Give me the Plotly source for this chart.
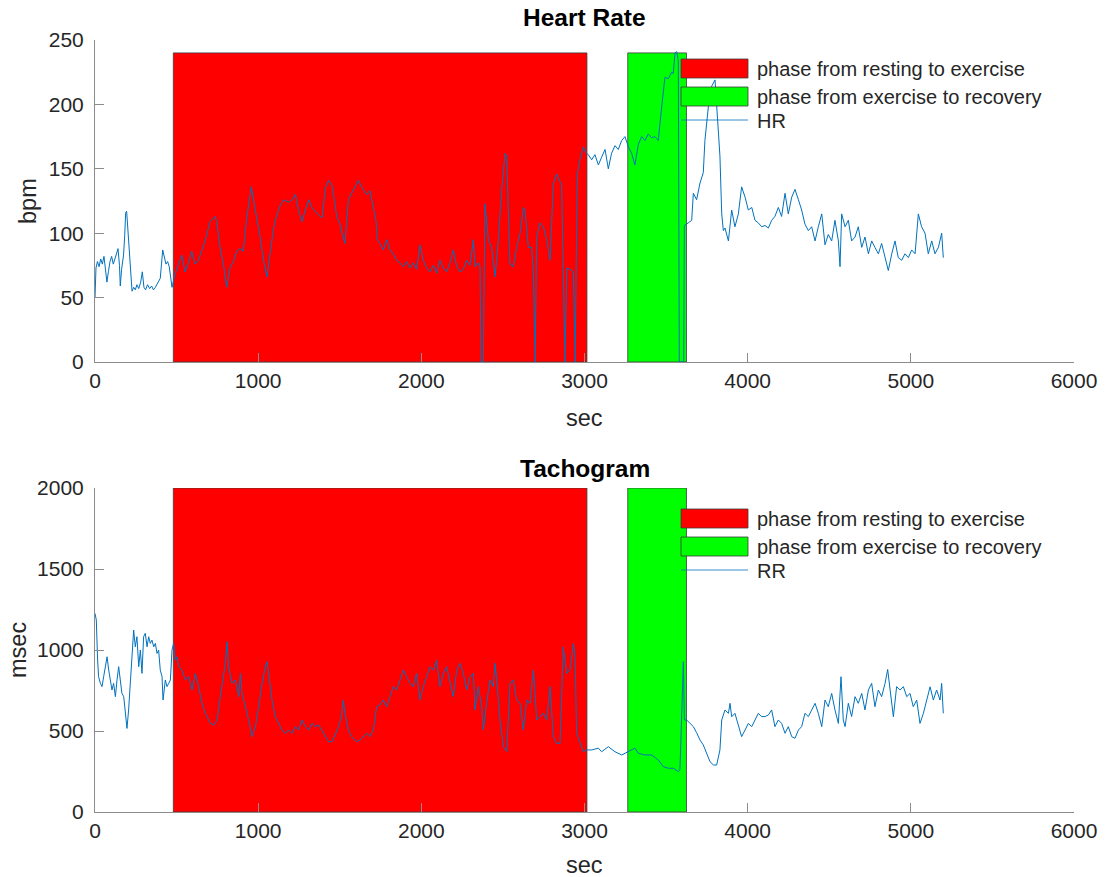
import plotly.graph_objects as go

# ---------------- data ----------------
# Heart rate (bpm) over time (s)
hr_sec = [0, 6, 15, 25, 35, 45, 55, 65, 73, 82, 92, 102, 112, 122, 132, 141, 150, 155, 163, 175,
          182, 188, 194, 200, 208, 216, 227, 237, 247, 257, 268, 280, 290, 300, 310, 322, 335, 347, 358, 370,
          380, 390, 400, 415, 425, 435, 445, 455, 472, 490, 512, 532, 552, 573, 593, 613, 634, 654, 675, 705,
          736, 746, 766, 787, 807, 827, 848, 868, 889, 909, 930, 958, 982, 1013, 1034, 1054, 1075, 1095, 1116, 1136,
          1157, 1187, 1208, 1228, 1249, 1269, 1289, 1310, 1330, 1351, 1371, 1392, 1412, 1432, 1453, 1483, 1500, 1514, 1532, 1553,
          1583, 1614, 1634, 1665, 1685, 1706, 1722, 1730, 1747, 1767, 1788, 1808, 1828, 1849, 1869, 1890, 1910, 1931, 1951, 1971,
          1992, 2012, 2033, 2053, 2074, 2094, 2114, 2135, 2155, 2176, 2196, 2217, 2237, 2257, 2278, 2298, 2319, 2329, 2349, 2360,
          2366, 2380, 2390, 2411, 2431, 2452, 2472, 2492, 2513, 2523, 2533, 2543, 2564, 2584, 2605, 2625, 2635, 2656, 2676, 2687,
          2697, 2707, 2727, 2748, 2768, 2789, 2809, 2829, 2850, 2860, 2870, 2880, 2891, 2911, 2932, 2942, 2956, 2972, 2993, 3013,
          3023, 3044, 3064, 3085, 3105, 3126, 3146, 3166, 3187, 3207, 3228, 3248, 3269, 3289, 3309, 3330, 3350, 3371, 3391, 3412,
          3432, 3452, 3473, 3493, 3514, 3534, 3544, 3555, 3565, 3575, 3581, 3608, 3612, 3626, 3636, 3657, 3667, 3687, 3708, 3728,
          3738, 3759, 3779, 3800, 3810, 3820, 3830, 3841, 3851, 3861, 3882, 3902, 3922, 3943, 3963, 3984, 4004, 4025, 4045, 4065,
          4086, 4106, 4127, 4147, 4167, 4188, 4208, 4229, 4249, 4270, 4290, 4311, 4331, 4351, 4372, 4392, 4413, 4433, 4454, 4474,
          4494, 4515, 4535, 4556, 4566, 4576, 4597, 4617, 4637, 4658, 4678, 4699, 4719, 4740, 4760, 4780, 4801, 4821, 4842, 4862,
          4883, 4903, 4923, 4944, 4964, 4985, 5005, 5026, 5046, 5066, 5087, 5107, 5128, 5148, 5169, 5189, 5199]
hr_bpm = [50, 73, 78, 74, 80, 76, 82, 72, 62, 70, 78, 82, 76, 80, 84, 88, 75, 59, 72, 83,
          98, 116, 117, 105, 95, 73, 55, 58, 56, 60, 57, 62, 70, 58, 56, 60, 57, 59, 56, 58,
          60, 62, 65, 87, 80, 76, 78, 74, 58, 68, 76, 83, 70, 77, 86, 76, 79, 86, 94, 109,
          113, 109, 89, 76, 58, 73, 78, 86, 88, 86, 112, 136, 119, 96, 78, 66, 86, 104, 115, 122,
          126, 124, 126, 130, 117, 109, 118, 126, 120, 117, 114, 112, 135, 141, 137, 112, 108, 100, 92, 126,
          133, 141, 136, 130, 133, 120, 110, 95, 92, 87, 95, 87, 84, 79, 77, 74, 78, 73, 77, 72,
          91, 79, 73, 70, 75, 69, 79, 73, 70, 77, 87, 74, 70, 72, 79, 75, 95, 74, 77, 74,
          0, 0, 123, 95, 89, 66, 95, 133, 162, 160, 120, 76, 74, 89, 100, 120, 118, 89, 89, 69,
          0, 97, 108, 105, 95, 79, 138, 146, 140, 138, 69, 0, 73, 72, 70, 0, 146, 157, 167, 162,
          161, 157, 161, 153, 159, 165, 150, 162, 168, 165, 172, 175, 167, 162, 153, 169, 175, 172, 177, 174,
          175, 172, 198, 221, 220, 225, 224, 240, 241, 234, 0, 0, 106, 107, 108, 110, 131, 126, 139, 147,
          172, 198, 214, 219, 198, 177, 160, 115, 102, 104, 94, 118, 105, 115, 136, 128, 118, 120, 110, 108,
          105, 106, 104, 110, 113, 120, 113, 131, 115, 128, 134, 126, 118, 107, 102, 105, 94, 105, 115, 91,
          99, 94, 110, 94, 74, 115, 105, 110, 94, 97, 105, 89, 97, 84, 94, 89, 84, 92, 81, 71,
          84, 94, 81, 79, 84, 81, 87, 84, 115, 105, 100, 84, 94, 84, 89, 100, 81]

# RR interval (msec) over time (s)
rr_sec = [0, 8, 16, 22, 33, 43, 53, 63, 74, 84, 94, 104, 114, 125, 135, 145, 155, 165, 176, 186,
          196, 206, 217, 227, 237, 247, 257, 268, 278, 288, 298, 308, 319, 329, 339, 349, 360, 370, 380, 390,
          400, 411, 417, 431, 441, 452, 462, 472, 482, 492, 503, 513, 533, 554, 574, 595, 615, 635, 656, 676,
          707, 727, 748, 768, 789, 799, 809, 819, 840, 860, 881, 891, 901, 921, 942, 962, 983, 1003, 1024, 1044,
          1054, 1064, 1085, 1105, 1126, 1146, 1167, 1187, 1207, 1228, 1248, 1269, 1289, 1310, 1330, 1350, 1371, 1391, 1412, 1432,
          1453, 1473, 1493, 1510, 1522, 1532, 1553, 1573, 1604, 1624, 1645, 1665, 1685, 1706, 1726, 1747, 1767, 1788, 1808, 1828,
          1849, 1869, 1890, 1910, 1931, 1951, 1971, 1992, 2012, 2033, 2053, 2074, 2094, 2114, 2135, 2155, 2176, 2196, 2217, 2237,
          2257, 2278, 2298, 2319, 2329, 2349, 2370, 2380, 2400, 2421, 2441, 2452, 2462, 2482, 2503, 2523, 2533, 2543, 2564, 2584,
          2605, 2625, 2646, 2666, 2687, 2697, 2707, 2727, 2748, 2768, 2789, 2809, 2829, 2850, 2870, 2891, 2911, 2932, 2942, 2952,
          2972, 2993, 3013, 3044, 3085, 3105, 3146, 3187, 3228, 3269, 3309, 3330, 3371, 3412, 3452, 3483, 3514, 3544, 3575, 3585,
          3606, 3612, 3626, 3647, 3667, 3687, 3708, 3728, 3749, 3769, 3790, 3810, 3830, 3841, 3861, 3882, 3892, 3902, 3922, 3943,
          3963, 3984, 4004, 4025, 4045, 4065, 4086, 4106, 4127, 4147, 4167, 4188, 4208, 4229, 4249, 4270, 4290, 4311, 4331, 4351,
          4372, 4392, 4413, 4433, 4454, 4474, 4494, 4515, 4535, 4556, 4572, 4586, 4597, 4617, 4637, 4658, 4678, 4699, 4719, 4740,
          4760, 4780, 4801, 4821, 4842, 4858, 4872, 4893, 4913, 4934, 4954, 4975, 4995, 5015, 5036, 5056, 5077, 5097, 5118, 5138,
          5158, 5179, 5189, 5199]
rr_msec = [1226, 1185, 938, 835, 794, 774, 835, 897, 958, 876, 815, 753, 794, 712, 815, 897, 815, 733, 712, 609,
           516, 630, 815, 1000, 1123, 1020, 1082, 897, 1000, 856, 1082, 1103, 1020, 1082, 1041, 1061, 1020, 1041, 979, 1000,
           876, 835, 691, 815, 774, 794, 815, 1000, 1041, 938, 958, 897, 876, 815, 835, 753, 856, 774, 671, 609,
           547, 537, 568, 712, 876, 918, 1051, 897, 794, 815, 712, 856, 733, 650, 568, 465, 527, 650, 794, 897,
           928, 856, 691, 588, 547, 506, 485, 506, 485, 527, 506, 568, 527, 506, 547, 527, 537, 506, 465, 434,
           434, 485, 527, 590, 691, 609, 506, 465, 434, 444, 465, 486, 465, 506, 650, 661, 691, 650, 712, 774,
           753, 815, 877, 835, 794, 774, 856, 691, 774, 835, 897, 877, 938, 774, 856, 897, 794, 712, 877, 918,
           856, 753, 835, 856, 630, 774, 650, 506, 671, 815, 774, 918, 815, 568, 403, 372, 568, 794, 815, 691,
           671, 506, 691, 671, 877, 732, 568, 589, 609, 568, 774, 465, 424, 424, 1020, 857, 877, 1040, 959, 486,
           424, 372, 383, 383, 394, 372, 403, 372, 352, 372, 394, 362, 352, 352, 321, 280, 270, 270, 249, 260,
           928, 568, 568, 547, 527, 490, 444, 414, 362, 311, 290, 290, 383, 568, 630, 609, 671, 588, 609, 527,
           465, 506, 547, 527, 568, 609, 589, 589, 599, 630, 527, 568, 547, 486, 527, 465, 455, 506, 527, 609,
           589, 630, 671, 609, 527, 691, 650, 732, 630, 547, 835, 568, 527, 671, 589, 712, 671, 732, 630, 753,
           794, 650, 753, 712, 794, 880, 753, 588, 774, 753, 774, 712, 732, 650, 691, 547, 609, 691, 773, 691,
           753, 691, 794, 609]

# Phase windows (s) and the height of the shaded blocks on each panel
phase_rest_to_ex = [480, 3015]
phase_ex_to_rec = [3265, 3625]
block_top_hr = 240
block_top_rr = 2000

x_ticks = [0, 1000, 2000, 3000, 4000, 5000, 6000]
hr_ticks = [0, 50, 100, 150, 200, 250]
rr_ticks = [0, 500, 1000, 1500, 2000]

legend_labels = ["phase from resting to exercise", "phase from exercise to recovery"]

# ---------------- styling ----------------
W, H = 1109, 877
FONT = "Liberation Sans, Arial, Helvetica, sans-serif"
TXT = "#262626"
AX = "#8c8c8c"
LINE_BLUE = "#0072BD"
RED = "rgb(255,0,0)"
GREEN = "rgb(0,255,0)"


def px(x):
    return x / W


def py(y):
    return 1 - y / H


def block(phase, top, color, xa, ya):
    a, b = phase
    return go.Scatter(x=[a, a, b, b, a], y=[0, top, top, 0, 0], mode="lines",
                      fill="toself", fillcolor=color,
                      line=dict(color="#3c3c3c", width=0.8),
                      xaxis=xa, yaxis=ya, showlegend=False, hoverinfo="skip")


fig = go.Figure()

# top panel: heart rate
fig.add_trace(block(phase_rest_to_ex, block_top_hr, RED, "x", "y"))
fig.add_trace(block(phase_ex_to_rec, block_top_hr, GREEN, "x", "y"))
fig.add_trace(go.Scatter(x=hr_sec, y=hr_bpm, mode="lines", name="HR",
                         line=dict(color=LINE_BLUE, width=1), xaxis="x", yaxis="y",
                         showlegend=False))

# bottom panel: tachogram
fig.add_trace(block(phase_rest_to_ex, block_top_rr, RED, "x2", "y2"))
fig.add_trace(block(phase_ex_to_rec, block_top_rr, GREEN, "x2", "y2"))
fig.add_trace(go.Scatter(x=rr_sec, y=rr_msec, mode="lines", name="RR",
                         line=dict(color=LINE_BLUE, width=1), xaxis="x2", yaxis="y2",
                         showlegend=False))

axis_common = dict(showgrid=False, zeroline=False, showline=True, linecolor=AX, linewidth=1,
                   ticks="inside", ticklen=9, tickcolor=AX, tickwidth=1, automargin=False,
                   tickfont=dict(family=FONT, size=21, color=TXT), mirror=False)

x_dom = [px(95), px(1074)]
fig.update_layout(
    width=W, height=H, margin=dict(l=0, r=0, t=0, b=0, autoexpand=False),
    paper_bgcolor="white", plot_bgcolor="white", showlegend=False,
    font=dict(family=FONT, color=TXT),
    xaxis=dict(domain=x_dom, anchor="y", range=[0, 6000], tickvals=x_ticks, **axis_common),
    yaxis=dict(domain=[py(362), py(40)], anchor="x", range=[0, 250], tickvals=hr_ticks,
               ticklabelstandoff=6, **axis_common),
    xaxis2=dict(domain=x_dom, anchor="y2", range=[0, 6000], tickvals=x_ticks, **axis_common),
    yaxis2=dict(domain=[py(812), py(488)], anchor="x2", range=[0, 2000], tickvals=rr_ticks,
                ticklabelstandoff=6, **axis_common),
)

shapes = []
annotations = []


def legend(top_px, third_label):
    # two patch swatches + one line sample, with their labels to the right
    x0, x1 = px(681), px(748)
    rows = [(top_px, RED), (top_px + 28, GREEN)]
    for (y0, color), label in zip(rows, legend_labels):
        shapes.append(dict(type="rect", xref="paper", yref="paper", x0=x0, x1=x1,
                           y0=py(y0), y1=py(y0 + 19), fillcolor=color,
                           line=dict(color="#3c3c3c", width=0.8), layer="above"))
        annotations.append(dict(xref="paper", yref="paper", x=px(755), y=py(y0 + 10),
                                text=label, showarrow=False, xanchor="left", yanchor="middle",
                                font=dict(family=FONT, size=20, color=TXT)))
    ly = top_px + 61
    shapes.append(dict(type="line", xref="paper", yref="paper", x0=x0, x1=x1,
                       y0=py(ly), y1=py(ly), line=dict(color=LINE_BLUE, width=0.8), layer="above"))
    annotations.append(dict(xref="paper", yref="paper", x=px(755), y=py(ly + 1),
                            text=third_label, showarrow=False, xanchor="left", yanchor="middle",
                            font=dict(family=FONT, size=20, color=TXT)))


legend(59, "HR")
legend(509, "RR")


def text(x, y, s, size, bold=False, angle=0):
    annotations.append(dict(xref="paper", yref="paper", x=px(x), y=py(y),
                            text=f"<b>{s}</b>" if bold else s, showarrow=False,
                            xanchor="center", yanchor="middle", textangle=angle,
                            font=dict(family=FONT, size=size, color="black" if bold else TXT)))


text(584.5, 18, "Heart Rate", 24.5, bold=True)
text(584.5, 468, "Tachogram", 24.5, bold=True)
text(584.5, 418, "sec", 23.5)
text(584.5, 865, "sec", 23.5)
text(28, 201, "bpm", 23.5, angle=-90)
text(18, 650, "msec", 23.5, angle=-90)

fig.update_layout(shapes=shapes, annotations=annotations)

fig.write_html("out.html")
